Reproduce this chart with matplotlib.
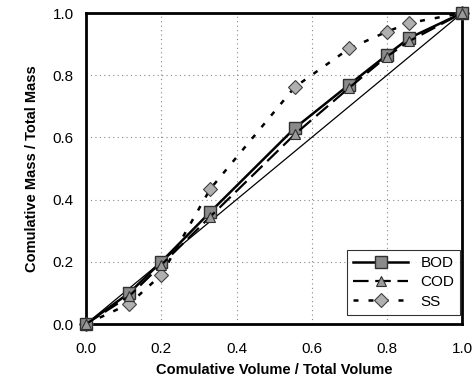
import matplotlib
matplotlib.use("Agg")
import matplotlib.pyplot as plt

plt.rcParams['font.family'] = ['Liberation Sans', 'DejaVu Sans']

# Daten
vol = [0.0, 0.115, 0.20, 0.33, 0.555, 0.70, 0.80, 0.86, 1.0]
bod = [0.0, 0.10, 0.20, 0.36, 0.63, 0.77, 0.865, 0.92, 1.0]
cod = [0.0, 0.09, 0.19, 0.345, 0.61, 0.76, 0.86, 0.91, 1.0]
ss = [0.0, 0.065, 0.158, 0.434, 0.762, 0.886, 0.94, 0.968, 1.0]

ticks = [0.0, 0.2, 0.4, 0.6, 0.8, 1.0]
tick_labels = ['0.0', '0.2', '0.4', '0.6', '0.8', '1.0']


def main():
    fig = plt.figure(figsize=(4.73, 3.83), dpi=100)
    ax = fig.add_axes([0.182, 0.154, 0.795, 0.812])

    # Diagonale
    ax.plot([0, 1], [0, 1], color='black', linewidth=0.9, zorder=2)

    ax.plot(vol, bod, color='black', linewidth=1.8, marker='s', markersize=9,
            markerfacecolor='#8a8a8a', markeredgecolor='#303030', markeredgewidth=1.0,
            label='BOD', zorder=4, clip_on=False)
    ax.plot(vol, cod, color='black', linewidth=1.6, linestyle=(0, (7, 3)), marker='^',
            markersize=7, markerfacecolor='#9a9a9a', markeredgecolor='#303030',
            markeredgewidth=0.8, label='COD', zorder=5, clip_on=False)
    ax.plot(vol, ss, color='black', linewidth=1.8, linestyle=(0, (2, 4)), marker='D',
            markersize=7, markerfacecolor='#b0b0b0', markeredgecolor='#404040',
            markeredgewidth=0.8, label='SS', zorder=3, clip_on=False)

    ax.set_xlim(0, 1)
    ax.set_ylim(0, 1)
    ax.set_xticks(ticks)
    ax.set_yticks(ticks)
    ax.set_xticklabels(tick_labels)
    ax.set_yticklabels(tick_labels)
    ax.tick_params(labelsize=11, length=0)
    ax.tick_params(axis='x', pad=13)
    ax.tick_params(axis='y', pad=9)
    ax.grid(True, linestyle=(0, (1, 3)), color='#888888', linewidth=0.8)
    for s in ax.spines.values():
        s.set_linewidth(2.0)

    ax.set_xlabel('Comulative Volume / Total Volume', fontsize=10.5, fontweight='bold',
                  labelpad=5)
    ax.set_ylabel('Comulative Mass / Total Mass', fontsize=10.5, fontweight='bold',
                  labelpad=10)

    leg = ax.legend(loc='lower right', fontsize=11, frameon=True, fancybox=False,
                    edgecolor='black', handlelength=3.6, borderaxespad=0.0,
                    bbox_to_anchor=(0.995, 0.03), labelspacing=0.35)
    leg.get_frame().set_linewidth(0.8)

    fig.savefig('out.png', dpi=100)


if __name__ == "__main__":
    main()
